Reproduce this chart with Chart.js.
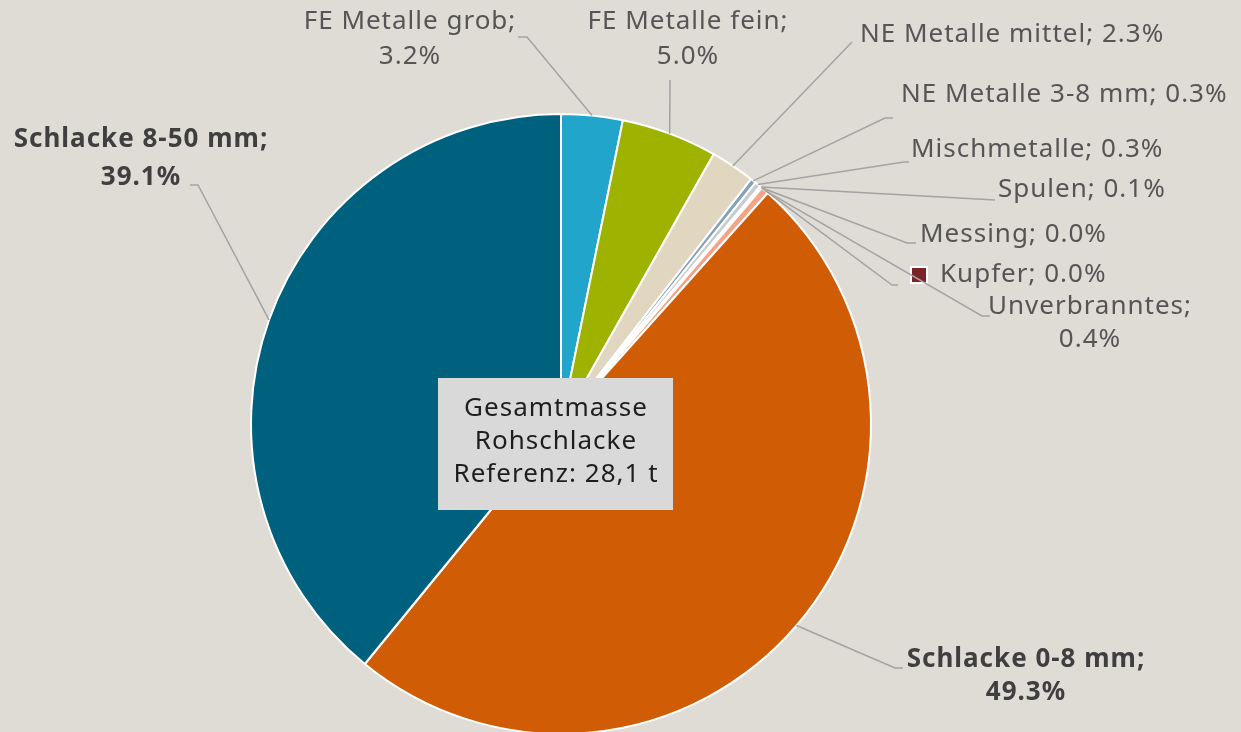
<!DOCTYPE html>
<html>
<head>
<meta charset="utf-8">
<script src="https://cdn.jsdelivr.net/npm/chart.js@4"></script>
<style>
  html, body { margin: 0; padding: 0; background: #dfdcd5; overflow: hidden; }
  #wrap { width: 1241px; height: 740px; position: relative; }
</style>
</head>
<body>
<div id="wrap"><canvas id="pieChart"></canvas></div>
<script>
// Kategorien und Anteile (%)
const categories = [
    'FE Metalle grob', 'FE Metalle fein', 'NE Metalle mittel', 'NE Metalle 3-8 mm',
    'Mischmetalle', 'Spulen', 'Messing', 'Kupfer', 'Unverbranntes',
    'Schlacke 0-8 mm', 'Schlacke 8-50 mm'
];
const values = [3.2, 5.0, 2.3, 0.3, 0.3, 0.1, 0.01, 0.01, 0.4, 49.3, 39.1];
const valueLabels = ['3.2%', '5.0%', '2.3%', '0.3%', '0.3%', '0.1%', '0.0%', '0.0%', '0.4%', '49.3%', '39.1%'];
const colors = [
    '#21a5cb', '#9eb300', '#e1d7c1', '#84a3b8',
    '#c8ccd0', '#f2f0ec', '#d9c9a8', '#7b2428', '#f3a487',
    '#d05c05', '#00617f'
];
const centerText = ['Gesamtmasse', 'Rohschlacke', 'Referenz: 28,1 t'];

// Position der Beschriftungen (Layout)
const labelLayout = [
    { x: 410, y: [22, 57], align: 'center', split: true, pts: [[527, 37], [518, 37]] },
    { x: 688, y: [22, 57], align: 'center', split: true, pts: [[670, 80]] },
    { x: 860, y: [35], align: 'left', pts: [[852, 42]] },
    { x: 901, y: [95], align: 'left', pts: [[885, 118], [893, 118]] },
    { x: 911, y: [150], align: 'left', pts: [[904, 162], [909, 162]] },
    { x: 998, y: [190], align: 'left', pts: [[995, 200]] },
    { x: 920, y: [235], align: 'left', pts: [[907, 243], [916, 243]] },
    { x: 940, y: [275], align: 'left', pts: [[892, 285], [898, 285]], marker: true },
    { x: 1090, y: [307, 340], align: 'center', split: true, pts: [[982, 316], [990, 316]] },
    { x: 1026, y: [660, 693], align: 'center', split: true, bold: true, pts: [[895, 668], [903, 668]] },
    { x: 141, y: [140, 178], align: 'center', split: true, bold: true, pts: [[198, 185], [190, 185]] }
];

const FONT = '"Noto Sans", "Open Sans", sans-serif';

const labelPlugin = {
    id: 'pieLabels',
    afterDraw(chart) {
        const ctx = chart.ctx;
        const arcs = chart.getDatasetMeta(0).data;
        ctx.save();
        ctx.letterSpacing = '1px';
        arcs.forEach((arc, i) => {
            const p = arc.getProps(['x', 'y', 'startAngle', 'endAngle', 'outerRadius'], true);
            const mid = (p.startAngle + p.endAngle) / 2;
            const sx = p.x + Math.cos(mid) * p.outerRadius;
            const sy = p.y + Math.sin(mid) * p.outerRadius;
            const L = labelLayout[i];
            // Führungslinie
            ctx.strokeStyle = '#a3a3a3';
            ctx.lineWidth = 1.5;
            ctx.beginPath();
            ctx.moveTo(sx, sy);
            L.pts.forEach(pt => ctx.lineTo(pt[0], pt[1]));
            ctx.stroke();
            // Text
            const lines = L.split
                ? [categories[i] + ';', valueLabels[i]]
                : [categories[i] + '; ' + valueLabels[i]];
            ctx.font = (L.bold ? 'bold ' : '') + '26px ' + FONT;
            ctx.fillStyle = L.bold ? '#3f3f3f' : '#555555';
            ctx.textAlign = L.align;
            ctx.textBaseline = 'middle';
            lines.forEach((t, k) => ctx.fillText(t, L.x, L.y[k]));
            if (L.marker) {
                ctx.fillStyle = '#ffffff';
                ctx.fillRect(910, 266, 18, 18);
                ctx.fillStyle = colors[i];
                ctx.fillRect(912, 268, 14, 14);
            }
        });
        // Box in der Mitte
        ctx.fillStyle = '#d9d9d9';
        ctx.fillRect(438, 378, 235, 132);
        ctx.fillStyle = '#1e1e1e';
        ctx.font = '26px ' + FONT;
        ctx.textAlign = 'center';
        ctx.textBaseline = 'middle';
        centerText.forEach((t, k) => ctx.fillText(t, 556, 409 + k * 33));
        ctx.restore();
    }
};

new Chart(document.getElementById('pieChart'), {
    type: 'pie',
    data: {
        labels: categories,
        datasets: [{
            data: values,
            backgroundColor: colors,
            borderColor: '#ffffff',
            borderWidth: 2
        }]
    },
    options: {
        responsive: true,
        maintainAspectRatio: false,
        animation: false,
        layout: { padding: { left: 250, right: 369, top: 113, bottom: 5 } },
        plugins: {
            legend: { display: false },
            tooltip: { enabled: false }
        }
    },
    plugins: [labelPlugin]
});
</script>
</body>
</html>
